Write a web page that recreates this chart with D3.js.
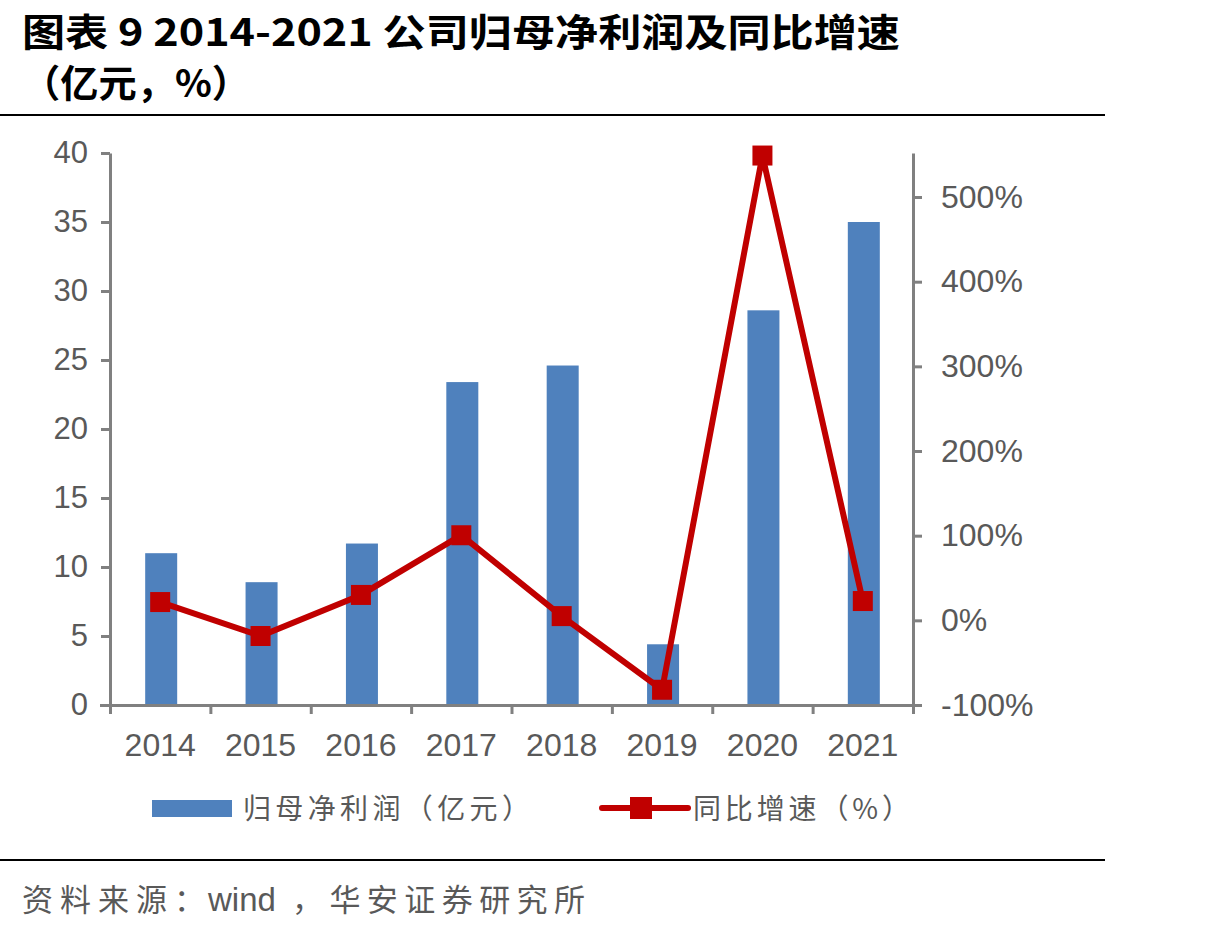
<!DOCTYPE html>
<html><head><meta charset="utf-8">
<script src="https://cdn.jsdelivr.net/npm/d3@7"></script>
<style>body{margin:0;background:#fff}</style>
</head><body>
<svg id="c" width="1232" height="931"></svg>
<script>
const years = ["2014","2015","2016","2017","2018","2019","2020","2021"];
const profit = [11.0, 8.9, 11.7, 23.4, 24.6, 4.4, 28.6, 35.0];
const growth = [21.6, -18.5, 30.0, 100.5, 5.0, -82.0, 549.0, 22.8];
const leftTicks = [0,5,10,15,20,25,30,35,40];
const rightTicks = [-100,0,100,200,300,400,500];
const titleLine1 = "图表 9  2014-2021 公司归母净利润及同比增速";
const titleLine2 = "（亿元，%）";
const legendLabels = ["归母净利润（亿元）","同比增速（%）"];
const sourceParts = ["资料来源：","wind","，华安证券研究所"];

const svg = d3.select("#c");
const L = 110, R = 913, T = 153, B = 705;
const grey = "#808080", txt = "#595959";
const cjk = "'Noto Sans CJK SC', sans-serif";
const num = "'Liberation Sans', Arial, sans-serif";

svg.append("text").attr("x",22).attr("y",46).attr("font-family",cjk).attr("font-weight","bold")
  .attr("font-size",38).attr("fill","#000").attr("textLength",878).attr("lengthAdjust","spacingAndGlyphs").text(titleLine1);
svg.append("text").attr("x",22).attr("y",97).attr("font-family",cjk).attr("font-weight","bold")
  .attr("font-size",38).attr("fill","#000").attr("textLength",228).attr("lengthAdjust","spacingAndGlyphs").text(titleLine2);
svg.append("line").attr("x1",0).attr("x2",1105).attr("y1",115).attr("y2",115).attr("stroke","#000").attr("stroke-width",2);
svg.append("line").attr("x1",0).attr("x2",1105).attr("y1",860).attr("y2",860).attr("stroke","#000").attr("stroke-width",2);

const x = d3.scaleBand().domain(years).range([L,R]);
const yL = d3.scaleLinear().domain([0,40]).range([B,T]);
const yR = d3.scaleLinear().domain([-100,552]).range([B,T]);

// bars
const bw = 32;
svg.append("g").selectAll("rect").data(years).join("rect")
  .attr("x",(d)=>x(d)+x.bandwidth()/2-bw/2+1).attr("width",bw)
  .attr("y",(d,i)=>yL(profit[i])).attr("height",(d,i)=>B-yL(profit[i]))
  .attr("fill","#4F81BD");

function styleAxis(g){
  g.select(".domain").attr("stroke",grey).attr("stroke-width",3);
  g.selectAll(".tick line").attr("stroke",grey).attr("stroke-width",3);
  g.selectAll(".tick text").attr("fill",txt).attr("font-family",num).attr("font-size",31);
}
const gl = svg.append("g").attr("transform",`translate(${L},0)`)
  .call(d3.axisLeft(yL).tickValues(leftTicks).tickSize(9).tickSizeOuter(0).tickPadding(13));
styleAxis(gl);
const gr = svg.append("g").attr("transform",`translate(${R},0)`)
  .call(d3.axisRight(yR).tickValues(rightTicks).tickSize(9).tickSizeOuter(0).tickPadding(19).tickFormat(d=>d+"%"));
styleAxis(gr);
gr.selectAll(".tick text").attr("font-size",32);
const xTickScale = d3.scalePoint().domain(d3.range(years.length+1)).range([L,R]);
const gb = svg.append("g").attr("transform",`translate(0,${B})`)
  .call(d3.axisBottom(xTickScale).tickSize(9).tickSizeOuter(0).tickFormat(""));
styleAxis(gb);
gb.select(".domain").attr("d",`M${L-10},0.5H${R}`);
svg.append("g").attr("transform",`translate(0,${B})`).selectAll("text").data(years).join("text")
  .attr("x",d=>x(d)+x.bandwidth()/2).attr("y",51).attr("text-anchor","middle")
  .attr("fill",txt).attr("font-family",num).attr("font-size",32).text(d=>d);

// line
const line = d3.line().x((d,i)=>x(years[i])+x.bandwidth()/2).y(d=>yR(d));
svg.append("path").datum(growth).attr("d",line).attr("fill","none").attr("stroke","#C00000")
  .attr("stroke-width",6).attr("stroke-linejoin","miter");
const ms = 20;
svg.append("g").selectAll("rect").data(growth).join("rect")
  .attr("x",(d,i)=>x(years[i])+x.bandwidth()/2-ms/2).attr("y",d=>yR(d)-ms/2)
  .attr("width",ms).attr("height",ms).attr("fill","#C00000");

// legend
const lg = svg.append("g");
lg.append("rect").attr("x",152).attr("y",800).attr("width",80).attr("height",17).attr("fill","#4F81BD");
lg.append("text").attr("x",243).attr("y",819).attr("font-family",cjk).attr("font-size",28).attr("fill",txt)
  .attr("textLength",287).attr("lengthAdjust","spacing").text(legendLabels[0]);
lg.append("line").attr("x1",602).attr("x2",688).attr("y1",808).attr("y2",808).attr("stroke","#C00000").attr("stroke-width",6).attr("stroke-linecap","round");
lg.append("rect").attr("x",630).attr("y",797).attr("width",22).attr("height",22).attr("fill","#C00000");
lg.append("text").attr("x",693).attr("y",819).attr("font-family",cjk).attr("font-size",28).attr("fill",txt)
  .attr("textLength",217).attr("lengthAdjust","spacing").text(legendLabels[1]);

const src = svg.append("text").attr("y",911).attr("font-family",cjk).attr("font-size",31).attr("fill",txt);
src.append("tspan").attr("x",22).attr("textLength",183).attr("lengthAdjust","spacing").text(sourceParts[0]);
src.append("tspan").attr("x",208).attr("font-family",num).attr("font-size",33).text(sourceParts[1]);
src.append("tspan").attr("x",292).attr("textLength",293).attr("lengthAdjust","spacing").text(sourceParts[2]);
</script>
</body></html>
